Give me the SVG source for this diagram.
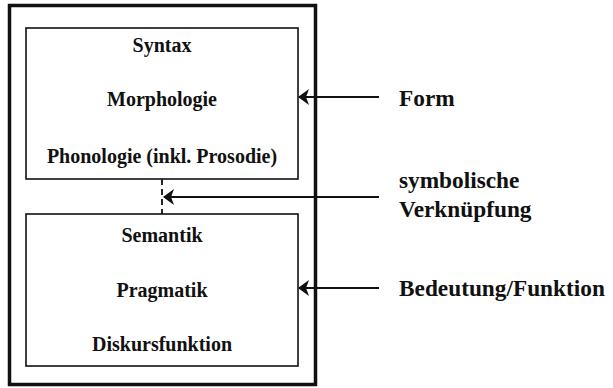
<svg xmlns="http://www.w3.org/2000/svg" width="613" height="388" viewBox="0 0 613 388">
<style>
text{font-family:"Liberation Serif","Times New Roman",serif;font-weight:bold;fill:#111}
.in{font-size:20px;text-anchor:middle}
.lb{font-size:23.3px}
.box{fill:none;stroke:#111;stroke-width:1.6}
.ln{stroke:#111;stroke-width:1.8;fill:none}
</style>
<defs>
<marker id="ah" viewBox="0 0 12 16" refX="11" refY="8" markerWidth="12" markerHeight="16" markerUnits="userSpaceOnUse" orient="auto">
<path d="M12,8 L1,0 L4,8 L1,16 Z" fill="#111"/>
</marker>
</defs>
<rect x="9.5" y="5.5" width="306" height="379" fill="none" stroke="#111" stroke-width="3.5"/>
<g id="form-box">
<rect class="box" x="26" y="28" width="272" height="151"/>
<text class="in" x="162" y="52">Syntax</text>
<text class="in" x="162" y="106">Morphologie</text>
<text class="in" x="162" y="163">Phonologie (inkl. Prosodie)</text>
</g>
<g id="meaning-box">
<rect class="box" x="26" y="214" width="272" height="152"/>
<text class="in" x="162" y="242">Semantik</text>
<text class="in" x="162" y="297">Pragmatik</text>
<text class="in" x="162" y="351">Diskursfunktion</text>
</g>
<g id="label-form"><text class="lb" x="399" y="106">Form</text></g>
<g id="label-link"><text class="lb" x="399" y="188">symbolische</text><text class="lb" x="399" y="217">Verknüpfung</text></g>
<g id="label-meaning"><text class="lb" x="399" y="296">Bedeutung/Funktion</text></g>
<g id="connectors">
<line class="ln" x1="162" y1="179" x2="162" y2="214" stroke-width="2.8" stroke-dasharray="6,4"/>
<line class="ln" x1="379" y1="197" x2="164" y2="197" marker-end="url(#ah)"/>
<line class="ln" x1="379" y1="97" x2="299" y2="97" marker-end="url(#ah)"/>
<line class="ln" x1="379" y1="288" x2="299" y2="288" marker-end="url(#ah)"/>
</g>
</svg>
